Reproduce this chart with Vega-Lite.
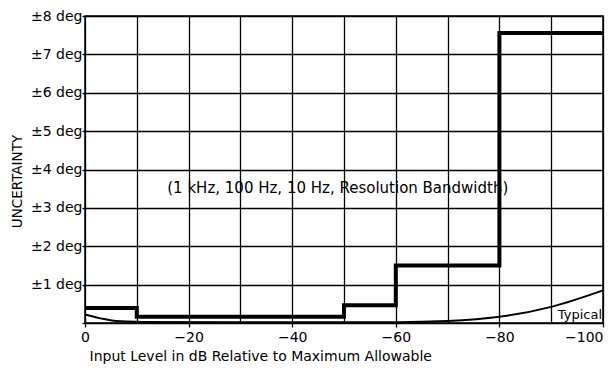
{
  "$schema": "https://vega.github.io/schema/vega-lite/v6.json",
  "width": 518,
  "height": 307,
  "autosize": {"type": "none"},
  "padding": {"left": 85, "top": 16, "right": 13, "bottom": 47},
  "background": "white",
  "config": {
    "view": {"stroke": "black", "strokeWidth": 1.5},
    "font": "DejaVu Sans",
    "axis": {"gridColor": "black", "gridOpacity": 1, "gridWidth": 1.3, "domain": false, "labelColor": "black", "titleColor": "black", "labelFont": "DejaVu Sans", "titleFont": "DejaVu Sans", "tickColor": "black", "tickWidth": 1.3}
  },
  "datasets": {
    "limit": [
      {"level": 0, "deg": 0.39},
      {"level": -10, "deg": 0.16},
      {"level": -50, "deg": 0.46},
      {"level": -60, "deg": 1.5},
      {"level": -80, "deg": 7.56},
      {"level": -100, "deg": 7.56}
    ],
    "typical": [
      {"level": 0, "deg": 0.22},
      {"level": -3, "deg": 0.12},
      {"level": -6, "deg": 0.05},
      {"level": -10, "deg": 0.03},
      {"level": -30, "deg": 0.02},
      {"level": -60, "deg": 0.02},
      {"level": -70, "deg": 0.05},
      {"level": -80, "deg": 0.16},
      {"level": -90, "deg": 0.42},
      {"level": -100, "deg": 0.85}
    ],
    "notes": [
      {"level": -48.8, "deg": 3.52, "text": "(1 kHz, 100 Hz, 10 Hz, Resolution Bandwidth)"}
    ],
    "typ": [
      {"level": -100, "deg": 0.2, "text": "Typical"}
    ]
  },
  "encoding": {
    "x": {
      "field": "level", "type": "quantitative",
      "scale": {"domain": [-100, 0], "reverse": true, "nice": false},
      "axis": {
        "values": [0, -10, -20, -30, -40, -50, -60, -70, -80, -90, -100],
        "tickCount": 30,
        "labelExpr": "datum.value % 20 == 0 ? (datum.value == 0 ? '0' : '−' + abs(datum.value)) : ''",
        "labelFontSize": 14, "labelPadding": 3, "labelFlush": false, "labelOverlap": false,
        "labelAlign": {"condition": {"test": "datum.value == -100", "value": "right"}, "value": "center"},
        "tickSize": 4,
        "tickOpacity": {"condition": {"test": "datum.value % 20 == 0", "value": 1}, "value": 0},
        "title": "Input Level in dB Relative to Maximum Allowable",
        "titleFontSize": 14, "titleFontWeight": "normal", "titleAnchor": "end", "titleAlign": "left", "titlePadding": 5, "titleX": 4
      }
    },
    "y": {
      "field": "deg", "type": "quantitative",
      "scale": {"domain": [0, 8], "nice": false},
      "axis": {
        "values": [0, 1, 2, 3, 4, 5, 6, 7, 8],
        "tickCount": 30,
        "labelExpr": "datum.value == 0 ? '' : '±' + datum.value + ' deg'",
        "labelFontSize": 14, "labelPadding": 0, "labelOverlap": false, "tickSize": 3,
        "title": "UNCERTAINTY", "titleFontSize": 13.5, "titleFontWeight": "normal", "titlePadding": 6, "titleY": 165
      }
    }
  },
  "layer": [
    {
      "data": {"name": "limit"},
      "mark": {"type": "line", "interpolate": "step-after", "color": "black", "strokeWidth": 4, "strokeCap": "butt", "strokeJoin": "miter", "clip": false}
    },
    {
      "data": {"name": "typical"},
      "mark": {"type": "line", "interpolate": "monotone", "color": "black", "strokeWidth": 2}
    },
    {
      "data": {"name": "notes"},
      "mark": {"type": "text", "fontSize": 15, "color": "black", "align": "center", "baseline": "middle"},
      "encoding": {"text": {"field": "text"}}
    },
    {
      "data": {"name": "typ"},
      "mark": {"type": "text", "fontSize": 13, "color": "black", "align": "right", "baseline": "middle", "dx": -1},
      "encoding": {"text": {"field": "text"}}
    }
  ]
}
